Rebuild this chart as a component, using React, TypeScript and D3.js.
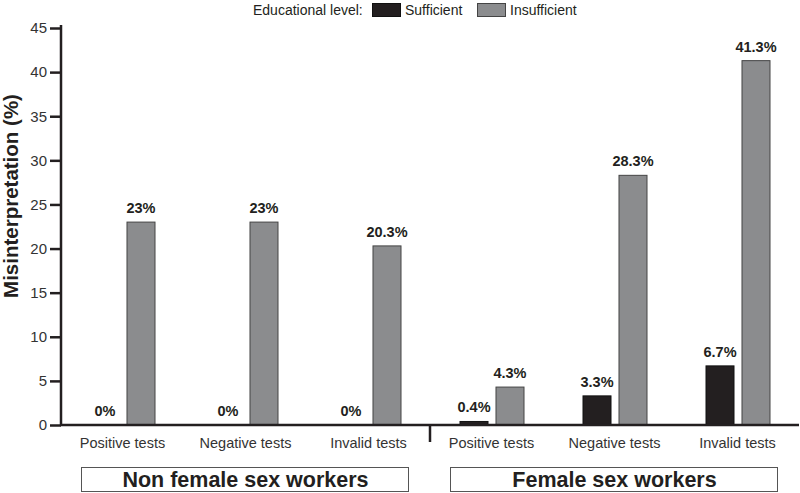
import { useEffect, useRef } from "react"
import * as d3 from "d3"

// data
const categories = ["Positive tests", "Negative tests", "Invalid tests", "Positive tests", "Negative tests", "Invalid tests"]
const groups = ["Non female sex workers", "Female sex workers"]
const sufficient = [0, 0, 0, 0.4, 3.3, 6.7]
const insufficient = [23, 23, 20.3, 4.3, 28.3, 41.3]
const series = ["Sufficient", "Insufficient"]
const yTicks = [0, 5, 10, 15, 20, 25, 30, 35, 40, 45]

const FONT = "'Liberation Sans', Arial, Helvetica, sans-serif"
const fills = { Sufficient: "#231f20", Insufficient: "#8b8c8e" }
const strokes = { Sufficient: "#111", Insufficient: "#444" }

const App = () => {
  const ref = useRef(null)

  useEffect(() => {
    document.body.style.margin = "0"
    const width = 800
    const height = 493

    d3.select(ref.current).selectAll("*").remove()

    const svg = d3.select(ref.current)
      .append("svg")
      .attr("width", width)
      .attr("height", height)
      .style("display", "block")
      .style("font-family", FONT)

    const idx = d3.range(categories.length)
    const x = d3.scaleBand().domain(idx).range([61, 799]).paddingInner(0).paddingOuter(0)
    const xs = d3.scaleBand().domain(series).range([30, 94]).paddingInner(0.222)
    const y = d3.scaleLinear().domain([0, 45]).range([425, 28])

    // y axis
    const yAxis = svg.append("g")
      .attr("transform", "translate(61,0)")
      .call(d3.axisLeft(y).tickValues(yTicks).tickSize(11).tickPadding(3).tickSizeOuter(0))
    yAxis.select(".domain").attr("stroke", "#231f20").attr("stroke-width", 2.5).attr("d", `M0,25V${y(0)}`)
    yAxis.selectAll(".tick line").attr("stroke", "#231f20").attr("stroke-width", 2.5)
    yAxis.selectAll(".tick text").attr("font-family", FONT).attr("font-size", 15).attr("fill", "#333")

    svg.append("text")
      .attr("transform", `translate(18,196) rotate(-90)`)
      .attr("text-anchor", "middle")
      .attr("font-size", 20.5)
      .attr("font-weight", "bold")
      .attr("fill", "#231f20")
      .text("Misinterpretation (%)")

    // bars
    const rows = idx.flatMap(i => [
      { i, s: "Sufficient", v: sufficient[i] },
      { i, s: "Insufficient", v: insufficient[i] },
    ])

    svg.append("g")
      .selectAll("rect")
      .data(rows.filter(d => d.v > 0))
      .join("rect")
      .attr("x", d => x(d.i) + xs(d.s))
      .attr("y", d => y(d.v))
      .attr("width", xs.bandwidth())
      .attr("height", d => y(0) - y(d.v))
      .attr("fill", d => fills[d.s])
      .attr("stroke", d => strokes[d.s])
      .attr("stroke-width", 1)

    svg.append("g")
      .selectAll("text")
      .data(rows.filter(d => d.v > 0 || d.s == "Sufficient"))
      .join("text")
      .attr("x", d => x(d.i) + xs(d.s) + xs.bandwidth() / 2)
      .attr("y", d => y(d.v) - 9)
      .attr("text-anchor", "middle")
      .attr("font-size", 14.5)
      .attr("font-weight", "bold")
      .attr("fill", "#231f20")
      .text(d => d.v + "%")

    // x axis
    svg.append("line")
      .attr("x1", 60).attr("x2", 799)
      .attr("y1", y(0)).attr("y2", y(0))
      .attr("stroke", "#231f20").attr("stroke-width", 2.5)

    const divX = x(3)
    svg.append("line")
      .attr("x1", divX).attr("x2", divX)
      .attr("y1", y(0)).attr("y2", 442)
      .attr("stroke", "#231f20").attr("stroke-width", 2.5)

    svg.append("g")
      .selectAll("text")
      .data(idx)
      .join("text")
      .attr("x", i => x(i) + x.bandwidth() / 2)
      .attr("y", 448)
      .attr("text-anchor", "middle")
      .attr("font-size", 14.5)
      .attr("fill", "#333")
      .text(i => categories[i])

    // group boxes
    const gx = d3.scaleBand().domain(groups).range([61, 799])
    const box = svg.append("g")
      .selectAll("g")
      .data(groups)
      .join("g")
      .attr("transform", g => `translate(${gx(g)},0)`)
    box.append("rect")
      .attr("x", 20.5)
      .attr("y", 467.5)
      .attr("width", gx.bandwidth() - 42)
      .attr("height", 24)
      .attr("fill", "white")
      .attr("stroke", "#555")
      .attr("stroke-width", 1)
    box.append("text")
      .attr("x", gx.bandwidth() / 2)
      .attr("y", 487)
      .attr("text-anchor", "middle")
      .attr("font-size", 21.5)
      .attr("font-weight", "bold")
      .attr("fill", "#231f20")
      .text(g => g)

    // legend
    const legend = svg.append("g")
    legend.append("text")
      .attr("x", 253).attr("y", 15)
      .attr("font-size", 14)
      .attr("fill", "#231f20")
      .text("Educational level:")
    const lx = d3.scaleOrdinal().domain(series).range([372, 477])
    const item = legend.selectAll("g")
      .data(series)
      .join("g")
      .attr("transform", s => `translate(${lx(s)},0)`)
    item.append("rect")
      .attr("x", 0.5).attr("y", 3.5)
      .attr("width", 28).attr("height", 13)
      .attr("fill", s => fills[s])
      .attr("stroke", s => strokes[s])
    item.append("text")
      .attr("x", 33).attr("y", 15)
      .attr("font-size", 14)
      .attr("fill", "#231f20")
      .text(s => s)
  }, [])

  return <div ref={ref} />
}

export default App
